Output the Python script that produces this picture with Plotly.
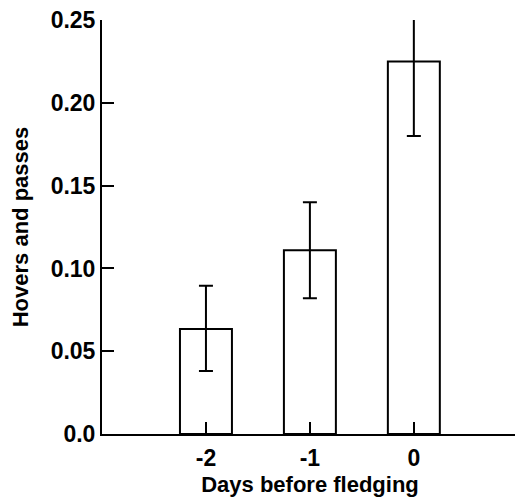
import plotly.graph_objects as go

days = [-2, -1, 0]
values = [0.0635, 0.111, 0.225]
err_plus = [0.026, 0.029, 0.026]
err_minus = [0.0255, 0.029, 0.045]
x_ticks = [-2, -1, 0, 1]
x_ticktext = ["-2", "-1", "0", " "]
y_ticks = [0.0, 0.05, 0.10, 0.15, 0.20, 0.25]
y_ticktext = ["0.0", "0.05", "0.10", "0.15", "0.20", "0.25"]

FONT = "Liberation Sans, Arial, sans-serif"
TITLE = dict(family=FONT, size=22, color="black", weight="bold")
TICK = dict(family=FONT, size=23, color="black", weight="bold")

fig = go.Figure()
fig.add_trace(go.Bar(
    x=days, y=values, width=0.5,
    marker=dict(color="white", line=dict(color="black", width=2)),
    error_y=dict(type="data", symmetric=False, array=err_plus, arrayminus=err_minus,
                 color="black", thickness=2, width=7),
))

fig.update_layout(
    width=523, height=499,
    margin=dict(l=94, r=13, t=12, b=73, autoexpand=False),
    paper_bgcolor="white", plot_bgcolor="white",
    showlegend=False,
    font=dict(family=FONT, color="black", size=22),
    xaxis=dict(
        range=[-3, 1.002], tickmode="array", tickvals=x_ticks, ticktext=x_ticktext,
        ticks="inside", ticklen=12, tickwidth=2, tickcolor="black",
        showline=True, linecolor="black", linewidth=2, showgrid=False, zeroline=False,
        automargin=False, ticklabeloverflow="allow",
        title=dict(text="Days before fledging", font=TITLE, standoff=7),
        tickfont=TICK, ticklabelstandoff=2,
    ),
    yaxis=dict(
        range=[0, 0.2501], tickmode="array", tickvals=y_ticks, ticktext=y_ticktext,
        ticks="inside", ticklen=12, tickwidth=2, tickcolor="black",
        showline=True, linecolor="black", linewidth=2, showgrid=False, zeroline=False,
        automargin=False, ticklabeloverflow="allow",
        title=dict(text="Hovers and passes", font=TITLE, standoff=16),
        tickfont=TICK, ticklabelstandoff=0,
    ),
)

fig.write_html("out.html")
